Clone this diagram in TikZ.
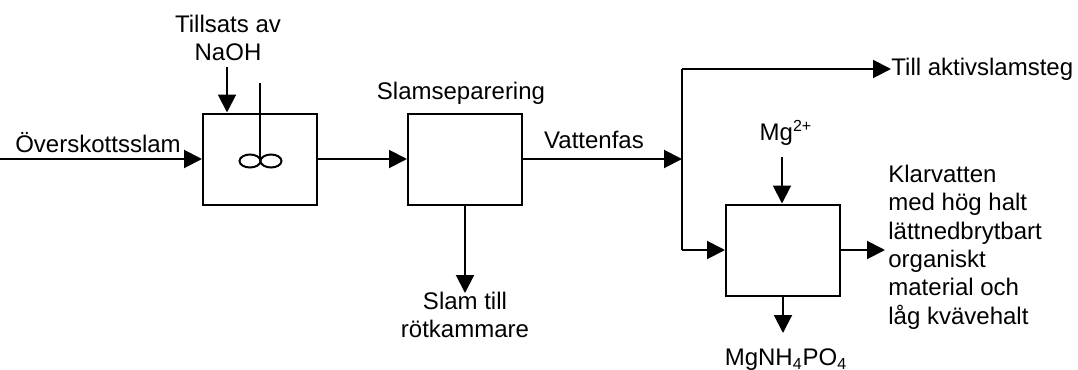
\documentclass[tikz,border=0pt]{standalone}
\usepackage{fontspec}
\setmainfont{Liberation Sans}
\usetikzlibrary{arrows.meta}

\tikzset{
  unit/.style={draw, line width=1pt, minimum width=57pt, minimum height=45.5pt},
  flow/.style={line width=1pt, -{Triangle[length=9pt,width=9pt]}},
  lbl/.style={align=center, inner sep=0pt},
}

\begin{document}
\begin{tikzpicture}[x=0.5pt,y=-0.5pt,font=\fontsize{12}{14.2}\selectfont]
\useasboundingbox (0,0) rectangle (1078,370);

% process units
\node[unit] (reactor) at (260,159) {};
\node[unit] (sep) at (465,159) {};
\node[unit] (mgbox) at (783,250) {};

% texts
\node[lbl] (feed) at (98,143) {Överskottsslam};
\node[lbl] (naoh) at (228,38) {Tillsats av\\NaOH};
\node[lbl] (seplbl) at (461,93) {Slamseparering};
\node[lbl] (water) at (594,140) {Vattenfas};
\node[lbl] (sludge) at (465,315) {Slam till\\rötkammare};
\node[lbl, anchor=west] (aktiv) at (891,69) {Till aktivslamsteg};
\node[lbl] (mg) at (786,133) {Mg\textsuperscript{2+}};
\node[lbl] (struvite) at (786,360) {MgNH\textsubscript{4}PO\textsubscript{4}};
\node[lbl, anchor=west, align=left] (clear) at (888,247)
  {Klarvatten\\med hög halt\\lättnedbrytbart\\organiskt\\material och\\låg kvävehalt};

% joints
\coordinate (in) at (0,159);
\coordinate (naohin) at (227,67);
\coordinate (split) at (682,159);
\coordinate (top) at (682,69);
\coordinate (low) at (682,250);
\coordinate (mgin) at (782,157);
\coordinate (sludgeout) at (465,293);
\coordinate (struviteout) at (783,333);
\coordinate (clearout) at (885,250);

% stirrer
\draw[line width=1pt] (260,83) -- (260,161);
\draw[line width=1pt] (250,161) ellipse (10.5 and 6.5) (271,161) ellipse (10.5 and 6.5);

% flows
\draw[flow] (in) -- (reactor);
\draw[flow] (naohin) -- (naohin |- reactor.north);
\draw[flow] (reactor) -- (sep);
\draw[flow] (sep) -- (split);
\draw[line width=1pt] (low) -- (top);
\draw[flow] (top) -- (top -| aktiv.west);
\draw[flow] (low) -- (mgbox);
\draw[flow] (mgin) -- (mgin |- mgbox.north);
\draw[flow] (sep.south) -- (sludgeout);
\draw[flow] (mgbox.south) -- (struviteout);
\draw[flow] (mgbox.east) -- (clearout);
\end{tikzpicture}
\end{document}
